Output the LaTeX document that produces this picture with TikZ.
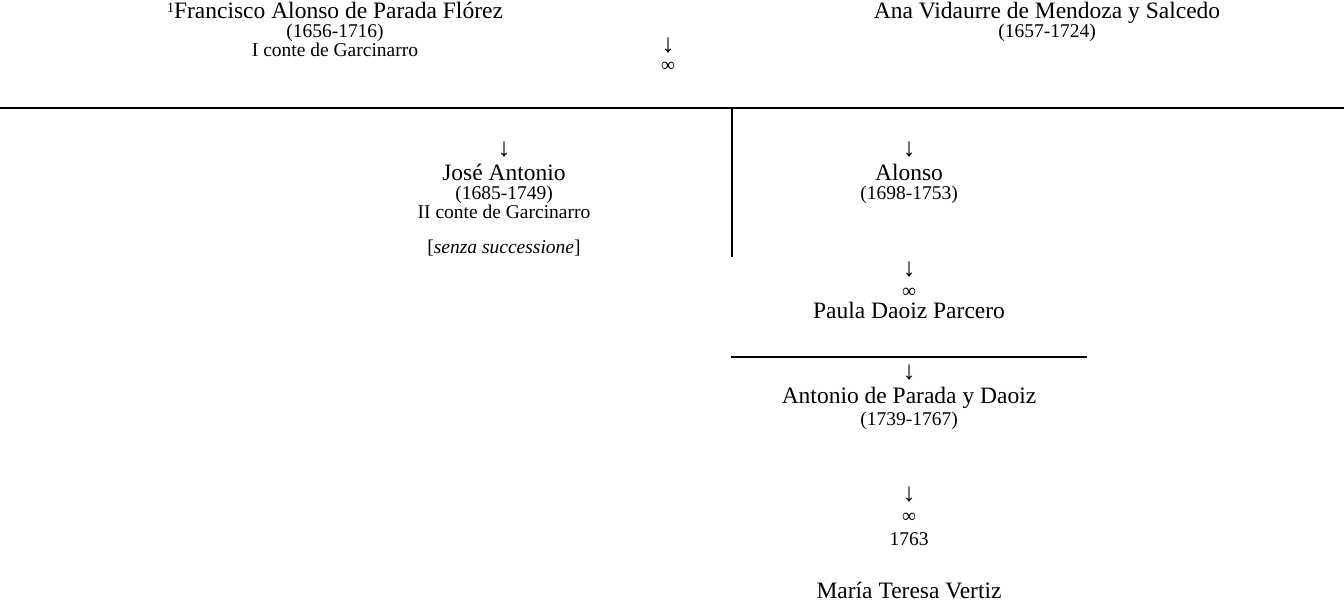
\documentclass[tikz,border=0pt]{standalone}
\usepackage{fontspec}
\setmainfont{Liberation Serif}
\newcommand{\supone}{\raisebox{0.25em}{\fontsize{14}{14}\selectfont 1}}
\begin{document}
\begin{tikzpicture}[x=1pt,y=-1pt,
  every node/.style={inner sep=0pt,text height=0.7em,text depth=0.2em},
  big/.style={font=\fontsize{23.5}{23.5}\selectfont},
  small/.style={font=\fontsize{19.5}{19.5}\selectfont},
  arr/.style={font=\fontsize{26}{26}\selectfont}]
\useasboundingbox (0,0) rectangle (1344,602);

% first couple
\node[big] (fr1) at (335,16) {\supone Francisco Alonso de Parada Flórez};
\node[small] (fr2) at (335,35) {(1656-1716)};
\node[small] (fr3) at (335,54) {I conte de Garcinarro};

\node[arr] (mar1) at (668,50) {↓};
\node[small] (inf1) at (668,69) {∞};

\node[big] (an1) at (1047,16) {Ana Vidaurre de Mendoza y Salcedo};
\node[small] (an2) at (1047,35) {(1657-1724)};

\coordinate (h1l) at (0,108);
\coordinate (h1r) at (1344,108);
\coordinate (v1t) at (732,108);
\coordinate (v1b) at (732,257);
\draw[line width=2pt] (h1l) -- (h1r);
\draw[line width=2pt] (v1t) -- (v1b);

% children
\node[arr] (ja0) at (504,154) {↓};
\node[big] (ja1) at (504,178) {José Antonio};
\node[small] (ja2) at (504,197) {(1685-1749)};
\node[small] (ja3) at (504,216) {II conte de Garcinarro};
\node[small] (ja4) at (504,251) {[\textit{senza successione}]};

\node[arr] (al0) at (909,154) {↓};
\node[big] (al1) at (909,178) {Alonso};
\node[small] (al2) at (909,197) {(1698-1753)};

\node[arr] (mar2) at (909,274) {↓};
\node[small] (inf2) at (909,295) {∞};
\node[big] (pa1) at (909,316) {Paula Daoiz Parcero};

\coordinate (h2l) at (731,357);
\coordinate (h2r) at (1087,357);
\draw[line width=2pt] (h2l) -- (h2r);

% grandson
\node[arr] (at0) at (909,377) {↓};
\node[big] (at1) at (909,401) {Antonio de Parada y Daoiz};
\node[small] (at2) at (909,423) {(1739-1767)};

\node[arr] (mar3) at (909,499) {↓};
\node[small] (inf3) at (909,520) {∞};
\node[small] (yr3) at (909,543) {1763};
\node[big] (mt1) at (909,596) {María Teresa Vertiz};
\end{tikzpicture}
\end{document}
